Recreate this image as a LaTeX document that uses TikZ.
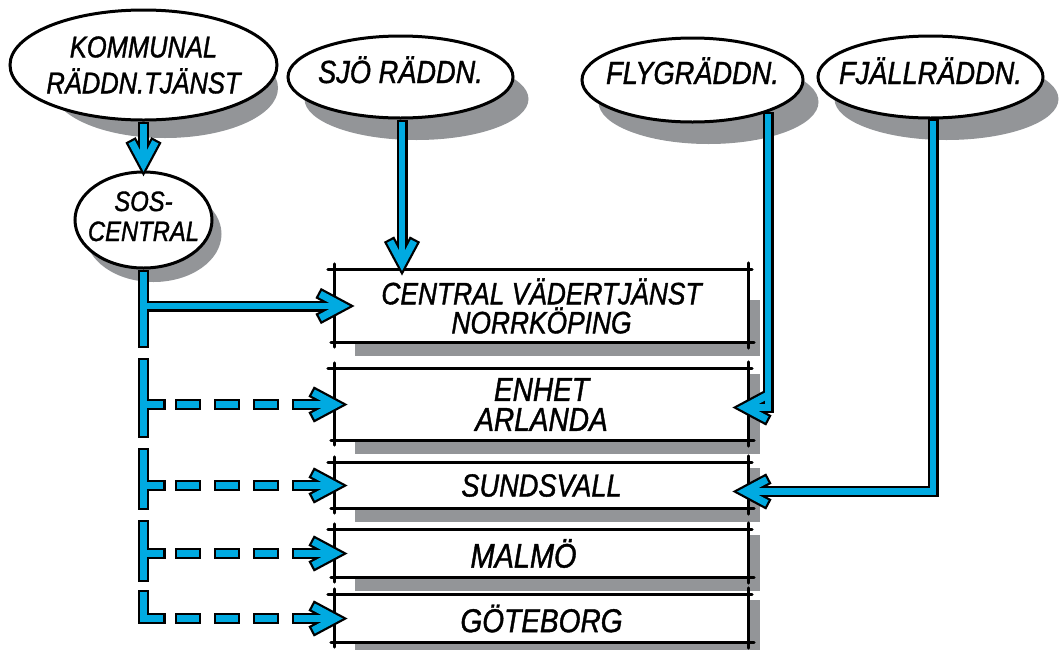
\documentclass[tikz,border=0pt]{standalone}
\usepackage{fontspec}
\newfontfamily\hand{Liberation Sans}[FakeStretch=0.85,FakeBold=1.2]
\usetikzlibrary{shapes.geometric,backgrounds}
\definecolor{flowc}{RGB}{0,170,225}
\definecolor{shadc}{RGB}{147,149,152}
\newcommand\hf[2]{\hand\itshape\fontsize{#1}{#2}\selectfont}
\tikzset{
  oval/.style={ellipse, draw=black, line width=3pt, fill=white, inner sep=-30pt, align=center},
  box/.style={rectangle, fill=white, inner sep=0pt, minimum width=413pt, align=center},
  bline/.style={draw=black, line width=3pt, line cap=round},
  cb/.style={draw=black, line width=11pt, line cap=rect, line join=miter},
  cc/.style={draw=flowc, line width=6.5pt, line cap=rect, line join=miter},
  db/.style={cb, dash pattern=on 15pt off 24pt},
  dc/.style={cc, dash pattern=on 15pt off 24pt},
  tipped/.style={shorten >=18pt},
  ahead/.pic={
    \begin{scope}[rotate=#1]
      \filldraw[draw=black, fill=black, line width=4.5pt, line join=miter]
        (-5,0) -- (-33,15) -- (-36.3,8.8) -- (-19.8,0) -- (-36.3,-8.8) -- (-33,-15) -- cycle;
      \fill[flowc]
        (-5,0) -- (-33,15) -- (-36.3,8.8) -- (-19.8,0) -- (-36.3,-8.8) -- (-33,-15) -- cycle;
    \end{scope}
  }
}
% arrow: #1 path, #2 tip, #3 rotation
\newcommand\flowarrow[3]{%
  \draw[cb,tipped] #1;
  \pic at #2 {ahead=#3};
  \draw[cc,tipped] #1;}
% dashed row: #1 box node, #2 trunk path
\newcommand\dashrow[2]{%
  \draw[cb] #2;
  \draw[db] (d0 |- #1.west) -- (d1 |- #1.west);
  \draw[cb,tipped] (ax |- #1.west) -- ([shift={(13,0)}]#1.west);
  \pic at ([shift={(13,0)}]#1.west) {ahead=0};
  \draw[dc] (d0 |- #1.west) -- (d1 |- #1.west);
  \draw[cc,tipped] (ax |- #1.west) -- ([shift={(13,0)}]#1.west);
  \draw[cc] #2;}
\newcommand\sketchbox[1]{%
  \draw[bline] ([shift={(-7,0)}]#1.north west) -- ([shift={(4,0)}]#1.north east);
  \draw[bline] ([shift={(-4,0)}]#1.south west) -- ([shift={(6,0)}]#1.south east);
  \draw[bline] ([shift={(0,-6)}]#1.north west) -- ([shift={(0,5)}]#1.south west);
  \draw[bline] ([shift={(0,-7)}]#1.north east) -- ([shift={(0,6)}]#1.south east);}
\begin{document}
\begin{tikzpicture}[x=1pt,y=-1pt]
\useasboundingbox (0,0) rectangle (1061,649);

% ellipses
\node[oval, minimum width=267pt, minimum height=110pt, font={\hf{30}{36}}] (kom) at (143.5,65) {KOMMUNAL\\RÄDDN.TJÄNST};
\node[oval, minimum width=225pt, minimum height=82pt, font={\hf{32}{36}}, text height=12pt, text depth=0pt] (sjo) at (400.5,77) {SJÖ RÄDDN.};
\node[oval, minimum width=221pt, minimum height=84pt, font={\hf{32}{36}}, text height=8pt, text depth=0pt] (fly) at (692.5,80) {FLYGRÄDDN.};
\node[oval, minimum width=225pt, minimum height=82pt, font={\hf{32}{36}}, text height=14pt, text depth=0pt] (fja) at (930.5,77) {FJÄLLRÄDDN.};
\node[oval, minimum width=137pt, minimum height=96pt, font={\hf{28}{30}}] (sos) at (143.5,220)
  {\raisebox{7pt}{\begin{tabular}{@{}c@{}}SOS-\\CENTRAL\end{tabular}}};

% boxes
\node[box, minimum height=72pt, font={\hf{31}{29}}] (b1) at (541.5,306) {CENTRAL VÄDERTJÄNST\\NORRKÖPING};
\node[box, minimum height=71pt, font={\hf{33}{30}}] (b2) at (541.5,404.5) {ENHET\\ARLANDA};
\node[box, minimum height=45pt, font={\hf{32}{34}}] (b3) at (541.5,485.5) {SUNDSVALL};
\node[box, minimum height=47pt, font={\hf{34}{36}}] (b4) at (541.5,553.5) {MALMÖ\hspace*{36pt}};
\node[box, minimum height=47pt, font={\hf{33}{36}}] (b5) at (541.5,618.5) {GÖTEBORG};
\foreach \n in {b1,b2,b3,b4,b5} {\sketchbox{\n}}

% shadows
\begin{scope}[on background layer]
  \fill[shadc] ([shift={(21.5,23)}]kom.center) ellipse [x radius=113pt, y radius=50pt];
  \fill[shadc] ([shift={(16,22)}]sjo.center) ellipse [x radius=112pt, y radius=41pt];
  \fill[shadc] ([shift={(16,22)}]fly.center) ellipse [x radius=110pt, y radius=42pt];
  \fill[shadc] ([shift={(16,22)}]fja.center) ellipse [x radius=112pt, y radius=41pt];
  \fill[shadc] ([shift={(10,14)}]sos.center) ellipse [x radius=68pt, y radius=48pt];
  \foreach \n/\t in {b1/30,b2/5,b3/5,b4/5,b5/5}
    \fill[shadc] ([shift={(20,\t)}]\n.north west) rectangle ([shift={(12,14)}]\n.south east);
\end{scope}

% helper coordinates
\coordinate (tx) at (143.5,0);
\coordinate (sx) at (160,0);
\coordinate (d0) at (180.5,0);
\coordinate (d1) at (273.5,0);
\coordinate (ax) at (297.5,0);
\coordinate (sjb) at (sjo.south |- b1.north);

% connectors
\flowarrow{([shift={(0,5.5)}]kom.south) -- ([shift={(0,6)}]sos.north)}{([shift={(0,6)}]sos.north)}{-90}
\flowarrow{([shift={(1.5,5.5)}]sjo.south) -- ([shift={(1.5,6)}]sjb)}{([shift={(1.5,6)}]sjb)}{-90}
\flowarrow{([shift={(0,5.5)}]fly.-23) |- ([shift={(-16,3)}]b2.east)}{([shift={(-16,3)}]b2.east)}{180}
\flowarrow{([shift={(2.5,5)}]fja.south) |- ([shift={(-16,6)}]b3.east)}{([shift={(-16,6)}]b3.east)}{180}
\flowarrow{([shift={(0,5.5)}]sos.south) -- (143.5,342.5) (tx |- b1.west) -- ([shift={(20,0)}]b1.west)}{([shift={(20,0)}]b1.west)}{0}

\dashrow{b2}{(143.5,363.5) -- (143.5,432.5) (tx |- b2.west) -- (sx |- b2.west)}
\dashrow{b3}{(143.5,453.5) -- (143.5,504.5) (tx |- b3.west) -- (sx |- b3.west)}
\dashrow{b4}{(143.5,525.5) -- (143.5,576.5) (tx |- b4.west) -- (sx |- b4.west)}
\dashrow{b5}{(143.5,595.5) -- (tx |- b5.west) -- (sx |- b5.west)}
\end{tikzpicture}
\end{document}
